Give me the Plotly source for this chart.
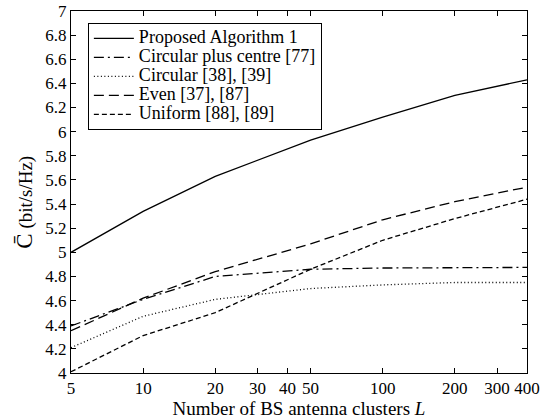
import plotly.graph_objects as go
import math

L = [5, 10, 20, 50, 100, 200, 400]
proposed = [5.00, 5.34, 5.63, 5.93, 6.12, 6.30, 6.43]
circ_centre = [4.39, 4.61, 4.80, 4.86, 4.87, 4.875, 4.875]
circular = [4.21, 4.47, 4.61, 4.70, 4.73, 4.75, 4.75]
even = [4.35, 4.62, 4.84, 5.07, 5.27, 5.42, 5.54]
uniform = [4.01, 4.31, 4.50, 4.86, 5.10, 5.28, 5.44]

names = ["Proposed Algorithm 1", "Circular plus centre [77]", "Circular [38], [39]",
         "Even [37], [87]", "Uniform [88], [89]"]
series = [proposed, circ_centre, circular, even, uniform]
dashes = ["solid", "10px,4px,2px,4px", "1px,2.5px", "10px,5px", "5px,3px"]

xticks = [5, 10, 20, 30, 40, 50, 100, 200, 300, 400]

fig = go.Figure()
for n, s, d in zip(names, series, dashes):
    fig.add_trace(go.Scatter(x=L, y=s, mode="lines",
                             name="<span style='font-size:18px'>" + n + "</span>",
                             line=dict(color="black", width=1.3, dash=d)))

font = "Liberation Serif"
ytitle = "<span style='font-size:23px'>C\u0304</span> (bit/s/Hz)"
fig.update_layout(
    width=540, height=419,
    margin=dict(l=71, r=13, t=11, b=46),
    paper_bgcolor="white", plot_bgcolor="white",
    font=dict(family=font, size=17, color="black"),
    showlegend=True,
    legend=dict(x=0.037, y=0.967, xanchor="left", yanchor="top",
                bordercolor="black", borderwidth=1, bgcolor="white",
                font=dict(family=font, size=12), tracegroupgap=0,
                itemwidth=40),
    xaxis=dict(type="log", range=[math.log10(5), math.log10(400)],
               tickvals=xticks, ticktext=[str(v) for v in xticks],
               ticks="inside", ticklen=5, tickcolor="black",
               showline=True, linecolor="black", linewidth=1, mirror="ticks",
               showgrid=False, zeroline=False, automargin=False,
               tickfont=dict(size=17), ticklabeloverflow="allow",
               title=dict(text="Number of BS antenna clusters <i>L</i>", standoff=3,
                          font=dict(size=19))),
    yaxis=dict(range=[4, 7], dtick=0.2, tick0=4,
               ticks="inside", ticklen=5, tickcolor="black",
               showline=True, linecolor="black", linewidth=1, mirror="ticks",
               showgrid=False, zeroline=False, automargin=False,
               tickfont=dict(size=17), ticklabeloverflow="allow"),
    annotations=[dict(text=ytitle, textangle=-90, xref="paper", yref="paper",
                      x=-0.101, y=0.473, xanchor="center", yanchor="middle",
                      showarrow=False, font=dict(family=font, size=19))],
)
fig.write_html("out.html", post_script="document.body.style.margin='0';",
               config={"displayModeBar": False})
